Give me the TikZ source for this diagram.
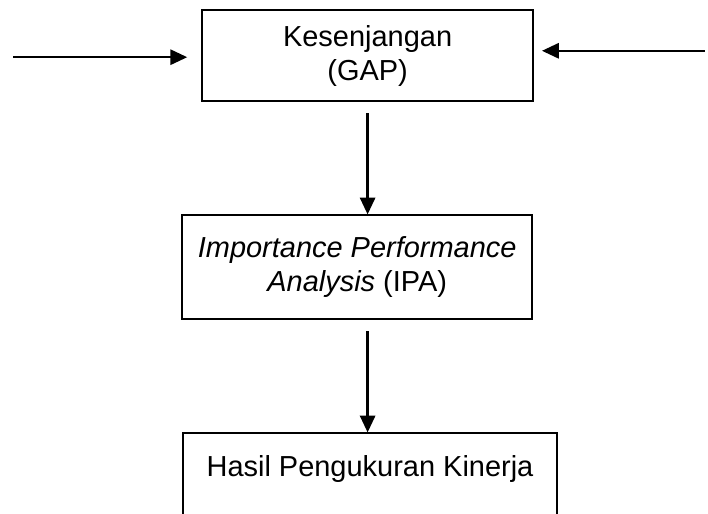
\documentclass[tikz,border=0pt]{standalone}
\usepackage{fontspec}
\setmainfont{Liberation Sans}
\usepackage{tikz}
\usetikzlibrary{arrows.meta,positioning,calc}

\begin{document}
\begin{tikzpicture}[
  box/.style={draw,line width=1.1pt,align=center,minimum height=2.28cm,font=\fontsize{20.6}{24.2}\selectfont},
  arr/.style={->,>={Triangle[length=0.42cm,width=0.38cm]},line width=1.6pt}
]
  % page frame
  \clip (0,0) rectangle (17.7,-12.85);

  % Boxes
  \node[box,minimum width=8.28cm] (gap) at (9.19,-1.39) {Kesenjangan\\(GAP)};
  \node[box,minimum width=8.75cm,minimum height=2.6cm] (ipa) at (8.93,-6.68) {\textit{Importance Performance}\\\textit{Analysis} (IPA)};
  \node[box,minimum width=9.35cm,minimum height=2.5cm] (hasil) at (9.25,-12.08) {Hasil Pengukuran Kinerja\\\mbox{}};

  % Inputs from the sides
  \coordinate (inL) at (0.33,-1.43);
  \coordinate (inR) at (17.62,-1.27);
  \draw[arr] (inL) -- ([xshift=-0.35cm]gap.west |- inL);
  \draw[arr] (inR) -- ([xshift=0.2cm]gap.east |- inR);

  % Flow downwards
  \draw[arr] ([yshift=-0.28cm]gap.south) -- (gap.south |- ipa.north);
  \draw[arr] ([yshift=-0.28cm]ipa.south -| gap.south) -- (gap.south |- hasil.north);
\end{tikzpicture}
\end{document}
